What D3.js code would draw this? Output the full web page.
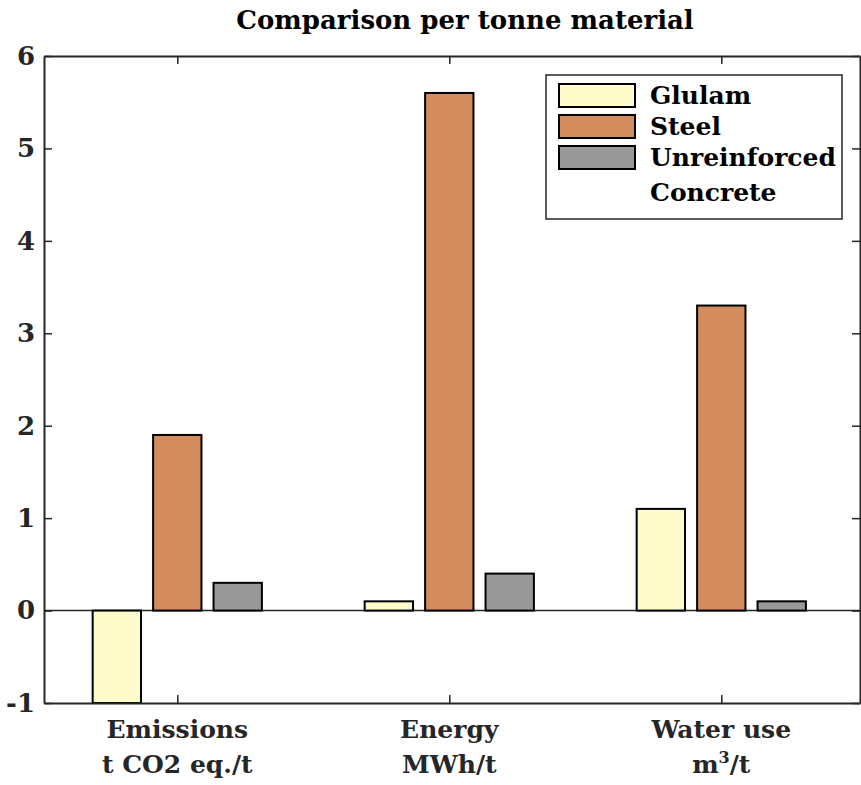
<!DOCTYPE html>
<html>
<head>
<meta charset="utf-8">
<script src="https://cdn.jsdelivr.net/npm/d3@7"></script>
<style>
  html, body { margin: 0; padding: 0; background: #fff; }
  svg { display: block; }
  text { font-family: "DejaVu Serif", "Liberation Serif", serif; font-weight: bold; }
</style>
</head>
<body>
<svg id="chart" width="861" height="785"></svg>
<script>
// Categories (two-line labels) and series
const categories = ["Emissions", "Energy", "Water use"];
const categoryUnits = ["t CO2 eq./t", "MWh/t", "m³/t"];
const seriesNames = ["Glulam", "Steel", "Unreinforced\nConcrete"];
const glulam = [-1.0, 0.1, 1.1];
const steel = [1.9, 5.6, 3.3];
const concrete = [0.3, 0.4, 0.1];
const seriesColors = ["#fffccc", "#d38c5e", "#999999"];
const yTicks = [-1, 0, 1, 2, 3, 4, 5, 6];
const titleText = "Comparison per tonne material";

const series = [glulam, steel, concrete];

const svg = d3.select("#chart");
const plot = { left: 44, right: 860, top: 56, bottom: 703 };
const axisColor = "#262626";

const x = d3.scaleLinear().domain([0.51, 3.51]).range([plot.left, plot.right]);
const y = d3.scaleLinear().domain([-1, 6]).range([plot.bottom, plot.top]);

// grouped bar geometry (in category units)
const groupWidth = Math.min(0.8, 3 / (3 + 1.5));
const step = groupWidth / 3;
const barW = 0.8 * step;

// title
svg.append("text")
  .attr("x", 465)
  .attr("y", 29)
  .attr("text-anchor", "middle")
  .attr("font-size", 26)
  .attr("fill", "#000")
  .text(titleText);

// baseline at zero
svg.append("line")
  .attr("x1", plot.left).attr("x2", plot.right)
  .attr("y1", y(0)).attr("y2", y(0))
  .attr("stroke", axisColor).attr("stroke-width", 1.5);

// bars
series.forEach((vals, j) => {
  svg.append("g").selectAll("rect")
    .data(vals)
    .join("rect")
    .attr("x", (d, i) => x(i + 1 + (j - 1) * step - barW / 2))
    .attr("width", x(barW) - x(0))
    .attr("y", d => y(Math.max(0, d)))
    .attr("height", d => Math.abs(y(d) - y(0)))
    .attr("fill", seriesColors[j])
    .attr("stroke", "#000")
    .attr("stroke-width", 2);
});

// axes (ticks point inward, box on all four sides)
const catTicks = categories.map((c, i) => i + 1);
function styleAxis(g) {
  g.selectAll(".domain").attr("stroke", axisColor).attr("stroke-width", 2);
  g.selectAll(".tick line").attr("stroke", axisColor).attr("stroke-width", 1.5);
  g.selectAll("text").attr("fill", axisColor).style("font-family", "DejaVu Serif, serif").style("font-weight", "bold");
}
svg.append("g")
  .attr("transform", `translate(${plot.left},0)`)
  .call(d3.axisLeft(y).tickValues(yTicks).tickSize(-8).tickSizeOuter(0).tickPadding(9).tickFormat(d => String(d)))
  .call(g => g.attr("font-size", 26))
  .call(styleAxis);
svg.append("g")
  .attr("transform", `translate(${plot.right},0)`)
  .call(d3.axisRight(y).tickValues(yTicks).tickSize(-8).tickSizeOuter(0).tickFormat(""))
  .call(styleAxis);
svg.append("g")
  .attr("transform", `translate(0,${plot.top})`)
  .call(d3.axisTop(x).tickValues(catTicks).tickSize(-8).tickSizeOuter(0).tickFormat(""))
  .call(styleAxis);
svg.append("g")
  .attr("transform", `translate(0,${plot.bottom})`)
  .call(d3.axisBottom(x).tickValues(catTicks).tickSize(-8).tickSizeOuter(0).tickFormat(""))
  .call(styleAxis);

// two-line category labels
const catLabels = svg.append("g").attr("font-size", 25).attr("fill", axisColor).attr("text-anchor", "middle");
categories.forEach((c, i) => {
  catLabels.append("text").attr("x", x(i + 1)).attr("y", 738).text(c);
  const t = catLabels.append("text").attr("x", x(i + 1)).attr("y", 773);
  const unit = categoryUnits[i];
  if (unit.includes("³")) {
    const [a, b] = unit.split("³");
    t.append("tspan").text(a);
    t.append("tspan").attr("font-size", 16).attr("dy", -10).text("3");
    t.append("tspan").attr("dy", 10).text(b);
  } else {
    t.text(unit);
  }
});

// legend
const lg = svg.append("g");
lg.append("rect")
  .attr("x", 546).attr("y", 75).attr("width", 296).attr("height", 144)
  .attr("fill", "#fff").attr("stroke", axisColor).attr("stroke-width", 1.5);
seriesNames.forEach((name, j) => {
  const y0 = 84 + j * 31;
  lg.append("rect")
    .attr("x", 559).attr("y", y0).attr("width", 76).attr("height", 23)
    .attr("fill", seriesColors[j]).attr("stroke", "#000").attr("stroke-width", 2);
  name.split("\n").forEach((line, k) => {
    lg.append("text")
      .attr("x", 650).attr("y", y0 + 20 + k * 35)
      .attr("font-size", 25).attr("fill", "#000")
      .text(line);
  });
});
</script>
</body>
</html>
